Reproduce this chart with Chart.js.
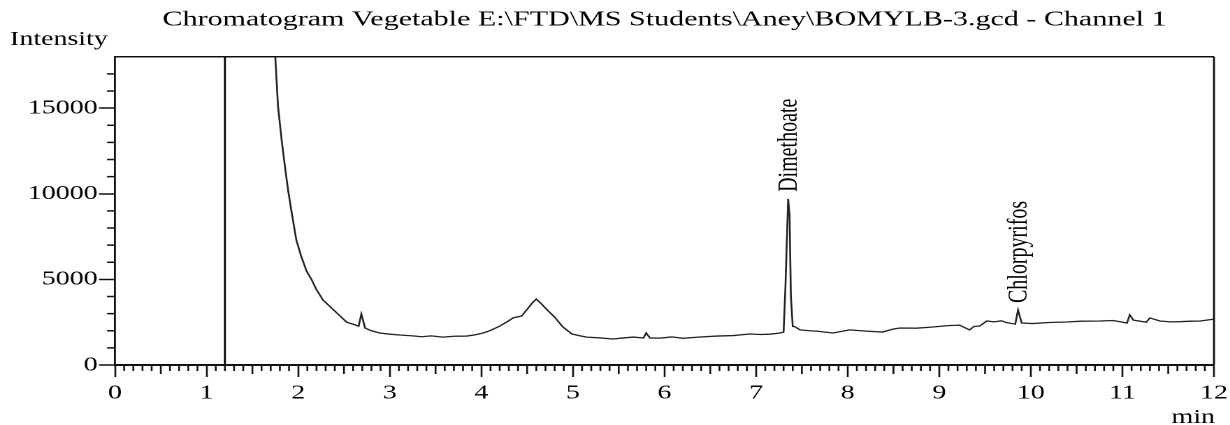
<!DOCTYPE html>
<html>
<head>
<meta charset="utf-8">
<title>Chromatogram Vegetable - Channel 1</title>
<script src="https://cdn.jsdelivr.net/npm/chart.js@4.4.1/dist/chart.umd.min.js"></script>
<style>
  html, body { margin: 0; padding: 0; background: #fff; overflow: hidden; }
  /* the instrument printout is stretched sideways, so the whole chart is too */
  #wrap {
    position: absolute; left: 0; top: 0;
    width: 880px; height: 425px;
    transform: scaleX(1.39773); transform-origin: 0 0;
  }
</style>
</head>
<body>
<div id="wrap"><canvas id="chromChart"></canvas></div>
<script>
// ===== Data =====
const retTimes = [
  1.70, 1.75, 1.78, 1.82, 1.86, 1.89, 1.93, 1.98, 2.03, 2.09, 2.15, 2.20, 2.27, 2.35, 2.44, 2.53,
  2.60, 2.66, 2.69, 2.73, 2.80, 2.89, 3.00, 3.11, 3.25, 3.35, 3.45, 3.58, 3.70, 3.84, 3.93, 4.02,
  4.10, 4.20, 4.28, 4.35, 4.44, 4.51, 4.56, 4.60, 4.66, 4.72, 4.80, 4.89, 4.99, 5.08, 5.15, 5.30,
  5.44, 5.55, 5.66, 5.77, 5.80, 5.84, 5.95, 6.08, 6.20, 6.35, 6.57, 6.75, 6.93, 7.05, 7.15, 7.26,
  7.30, 7.32, 7.35, 7.365, 7.38, 7.40, 7.42, 7.48, 7.58, 7.66, 7.84, 8.02, 8.20, 8.38, 8.50, 8.57,
  8.75, 8.93, 9.10, 9.22, 9.33, 9.38, 9.44, 9.52, 9.60, 9.68, 9.73, 9.83, 9.86, 9.90, 10.02, 10.20,
  10.39, 10.55, 10.75, 10.90, 11.05, 11.08, 11.12, 11.26, 11.30, 11.41, 11.52, 11.63, 11.75, 11.85, 12.00
];
const intensity = [
  21000, 18000, 15100, 13100, 11400, 10200, 8870, 7300, 6400, 5500, 4950, 4400, 3800, 3400, 2950, 2500,
  2380, 2270, 2980, 2160, 2000, 1870, 1800, 1750, 1700, 1650, 1700, 1630, 1680, 1690, 1760, 1870,
  2020, 2270, 2520, 2760, 2860, 3320, 3650, 3850, 3550, 3210, 2800, 2220, 1810, 1700, 1630, 1580,
  1520, 1580, 1630, 1575, 1870, 1580, 1570, 1640, 1560, 1620, 1690, 1720, 1810, 1780, 1800, 1870,
  1920, 4500, 9700, 8800, 4000, 2250, 2250, 2050, 2000, 1980, 1870, 2050, 1980, 1925, 2100, 2160,
  2150, 2220, 2300, 2330, 2050, 2250, 2275, 2570, 2520, 2580, 2480, 2390, 3210, 2450, 2420, 2480,
  2510, 2560, 2570, 2600, 2450, 2920, 2620, 2500, 2750, 2570, 2520, 2530, 2560, 2570, 2680
];

const xTickValues = [0, 1, 2, 3, 4, 5, 6, 7, 8, 9, 10, 11, 12];
const yTickValues = [0, 5000, 10000, 15000];
const xMinorStep = 0.1;
const yMinorStep = 1000;

const peakNames = ['Dimethoate', 'Chlorpyrifos'];
const peakTimes = [7.35, 9.86];
const peakHeights = [9700, 3210];

const injectionMark = 1.2;

const chartTitle = 'Chromatogram Vegetable E:\\FTD\\MS Students\\Aney\\BOMYLB-3.gcd - Channel 1';

// ===== Common look =====
const stretch = 1230 / 880;
const serif = "'Liberation Serif', 'Times New Roman', serif";
Chart.defaults.font.family = serif;
Chart.defaults.color = '#000';

// ===== Frame, minor ticks, marker line, peak names =====
const chromExtras = {
  id: 'chromExtras',
  afterDraw(chart) {
    const { ctx, chartArea: a, scales: { x, y } } = chart;
    ctx.save();
    ctx.strokeStyle = '#111';

    // frame top + right
    ctx.lineWidth = 1.5;
    ctx.beginPath();
    ctx.moveTo(a.left, a.top);
    ctx.lineTo(a.right, a.top);
    ctx.stroke();
    ctx.lineWidth = 1.4;
    ctx.beginPath();
    ctx.moveTo(a.right, a.top);
    ctx.lineTo(a.right, a.bottom);
    ctx.stroke();

    // x minor ticks (0.1 min, longer at 0.5)
    ctx.lineWidth = 1.3;
    const nx = Math.round((x.max - x.min) / xMinorStep);
    for (let i = 0; i <= nx; i++) {
      if (i % 10 === 0) continue;
      const px = x.getPixelForValue(x.min + i * xMinorStep);
      const len = i % 5 === 0 ? 9 : 6;
      ctx.beginPath();
      ctx.moveTo(px, a.bottom);
      ctx.lineTo(px, a.bottom + len);
      ctx.stroke();
    }

    // y minor ticks (every 1000)
    ctx.lineWidth = 1.5;
    for (let v = yMinorStep; v < y.max; v += yMinorStep) {
      if (v % 5000 === 0) continue;
      const py = y.getPixelForValue(v);
      ctx.beginPath();
      ctx.moveTo(a.left, py);
      ctx.lineTo(a.left - 8 / stretch, py);
      ctx.stroke();
    }

    // injection marker
    const mx = x.getPixelForValue(injectionMark);
    ctx.strokeStyle = '#000';
    ctx.lineWidth = 1.4;
    ctx.beginPath();
    ctx.moveTo(mx, a.top);
    ctx.lineTo(mx, a.bottom);
    ctx.stroke();

    // peak names, rotated
    ctx.fillStyle = '#000';
    ctx.font = '20px ' + serif;
    ctx.textAlign = 'left';
    ctx.textBaseline = 'middle';
    peakNames.forEach((name, i) => {
      const px = x.getPixelForValue(peakTimes[i]);
      const py = y.getPixelForValue(peakHeights[i]);
      ctx.save();
      ctx.translate(px + 1, py - 7);
      ctx.rotate(-Math.PI / 2);
      ctx.fillText(name, 0, 0);
      ctx.restore();
    });

    // axis names
    ctx.textBaseline = 'alphabetic';
    ctx.textAlign = 'left';
    ctx.fillText('Intensity', 10 / stretch, 45);
    ctx.textAlign = 'right';
    ctx.fillText('min', 1215 / stretch, 423);

    ctx.restore();
  }
};

// ===== Chart =====
function initChromChart() {
  const ctx = document.getElementById('chromChart');

  new Chart(ctx, {
    type: 'line',
    data: {
      datasets: [{
        label: 'Channel 1',
        data: retTimes.map((t, i) => ({ x: t, y: intensity[i] })),
        borderColor: '#222',
        borderWidth: 1.3,
        pointRadius: 0,
        tension: 0,
        fill: false
      }]
    },
    options: {
      responsive: true,
      maintainAspectRatio: false,
      animation: false,
      devicePixelRatio: 2,
      layout: { padding: { left: 0, right: 880 - 1214 / stretch, top: 0, bottom: 0 } },
      plugins: {
        legend: { display: false },
        tooltip: { enabled: false },
        title: {
          display: true,
          text: chartTitle,
          fullSize: false,
          color: '#000',
          font: { family: serif, size: 21.5, weight: 'normal' },
          padding: { top: 7, bottom: 24 }
        }
      },
      scales: {
        x: {
          type: 'linear',
          min: 0,
          max: 12,
          afterBuildTicks: (s) => { s.ticks = xTickValues.map(v => ({ value: v })); },
          afterFit: (s) => { s.height = 60; s.paddingLeft = 0; s.paddingRight = 0; },
          grid: { drawOnChartArea: false, drawTicks: true, tickLength: 12, tickWidth: 1.3, tickColor: '#111' },
          border: { display: true, color: '#111', width: 2 },
          ticks: { font: { size: 20 }, color: '#000', padding: 4, maxRotation: 0, autoSkip: false,
                   callback: (v) => String(v) }
        },
        y: {
          type: 'linear',
          min: 0,
          max: 18000,
          afterBuildTicks: (s) => { s.ticks = yTickValues.map(v => ({ value: v })); },
          afterFit: (s) => { s.width = 115 / stretch; },
          grid: { drawOnChartArea: false, drawTicks: true, tickLength: 16 / stretch, tickWidth: 1.5, tickColor: '#111' },
          border: { display: true, color: '#111', width: 1.4 },
          ticks: { font: { size: 20 }, color: '#000', padding: 1, autoSkip: false,
                   callback: (v) => String(v) }
        }
      }
    },
    plugins: [chromExtras]
  });
}

document.addEventListener('DOMContentLoaded', () => {
  if (typeof Chart !== 'undefined') initChromChart();
});
</script>
</body>
</html>
